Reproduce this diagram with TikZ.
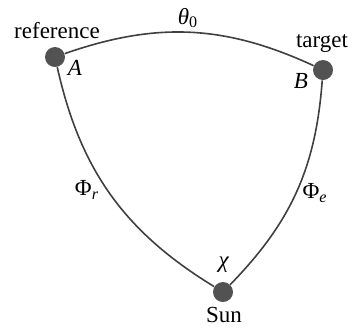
\documentclass[tikz,border=0pt]{standalone}
\usepackage{fontspec}
\setmainfont{Liberation Serif}
\begin{document}
\begin{tikzpicture}[x=0.5pt,y=-0.5pt,
  arcline/.style={draw=black!75, line width=0.8pt},
  dotnode/.style={circle, fill=black!68, minimum size=10pt, inner sep=0pt},
  lbl/.style={font=\fontsize{11.5}{13}\selectfont, inner sep=0pt}]
\useasboundingbox (0,0) rectangle (352,328);
\node[dotnode] (A) at (55,57) {};
\node[dotnode] (B) at (323,70) {};
\node[dotnode] (S) at (223,292) {};
\draw[arcline] (A) to[bend left=22] (B);
\draw[arcline] (A) to[bend right=23] (S);
\draw[arcline] (B) to[bend left=20] (S);
\node[lbl, anchor=base] (ref) at (57,38) {reference};
\node[lbl, anchor=base] (tgt) at (322,47) {target};
\node[lbl, anchor=base] (sun) at (224,322) {Sun};
\node[lbl, anchor=base] (la) at (75,75) {\textit{A}};
\node[lbl, anchor=base] (lb) at (301,88) {\textit{B}};
\node[lbl] (th) at (188,18) {\textit{θ}\textsubscript{0}};
\node[lbl] (chi) at (224,265) {\textit{χ}};
\node[lbl] (pr) at (87,190) {Φ\textsubscript{\textit{r}}};
\node[lbl] (pe) at (315,193) {Φ\textsubscript{\textit{e}}};
\end{tikzpicture}
\end{document}
